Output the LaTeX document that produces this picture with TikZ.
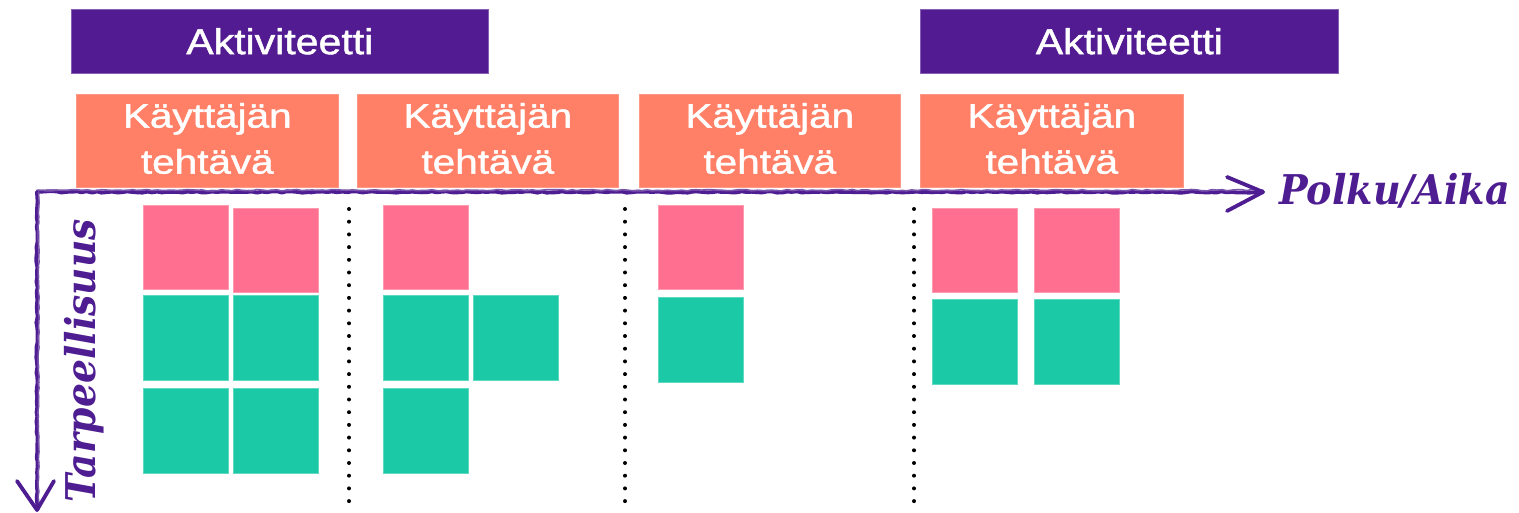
\documentclass[tikz,border=0pt]{standalone}
\usepackage{fontspec}
\setmainfont[FakeBold=1.2]{Liberation Sans}
\newfontfamily\axisfont{DejaVu Serif}
\usetikzlibrary{decorations.pathmorphing}
\definecolor{actpurple}{RGB}{82,27,146}
\definecolor{taskorange}{RGB}{255,128,102}
\definecolor{notepink}{RGB}{255,111,143}
\definecolor{notegreen}{RGB}{28,201,166}
\definecolor{axispurple}{RGB}{78,29,145}
\newcommand{\wx}[1]{\scalebox{1.19}[1]{#1}}
\newcommand{\wa}[1]{\scalebox{1.14}[1]{#1}}
\newcommand{\taskline}{\wx{Käyttäjän}\\\wx{tehtävä}\rule[-5pt]{0pt}{5pt}}
\begin{document}
\begin{tikzpicture}[x=1pt,y=-1pt,
  actbox/.style={fill=actpurple, draw=actpurple!70!white, line width=0.6pt, anchor=north west, inner sep=0pt,
     minimum width=#1, minimum height=64pt, text=white, font=\fontsize{36}{40}\selectfont},
  taskbox/.style={fill=taskorange, draw=taskorange!80!white, line width=0.6pt, anchor=north west, inner sep=0pt,
     minimum width=#1, minimum height=93pt, text=white, align=center, font=\fontsize{34}{46}\selectfont},
  pinknote/.style={fill=notepink, draw=notepink!70!white, line width=0.8pt, anchor=north west, inner sep=0pt,
     minimum width=85pt, minimum height=84pt},
  greennote/.style={fill=notegreen, draw=notegreen!70!white, line width=0.8pt, anchor=north west, inner sep=0pt,
     minimum width=85pt, minimum height=85pt},
  dotline/.style={line width=4pt, line cap=round, dash pattern=on 0pt off 12.7pt, black},
  axisline/.style={axispurple, line width=3.8pt, line cap=round, line join=round,
     decorate, decoration={random steps, segment length=5pt, amplitude=0.7pt}},
  axishead/.style={axispurple, line width=3.8pt, line cap=round, line join=round},
  axislabel/.style={text=axispurple, inner sep=0pt, font=\axisfont\bfseries\itshape\fontsize{41}{45}\selectfont}
]
\useasboundingbox (0,0) rectangle (1519,513);

% activities
\node[actbox=417pt] (act1) at (71,9) {\wa{Aktiviteetti}};
\node[actbox=418pt] (act2) at (920,9) {\wa{Aktiviteetti}};

% user tasks
\node[taskbox=262pt] (task1) at (76,94) {\taskline};
\node[taskbox=261pt] (task2) at (357,94) {\taskline};
\node[taskbox=261pt] (task3) at (639,94) {\taskline};
\node[taskbox=263pt] (task4) at (920,94) {\taskline};

% axes
\coordinate (origin) at (37,192);
\coordinate (hend) at (1263,192);
\coordinate (vend) at (37,510);
\coordinate (hh1) at (1227,177);
\coordinate (hh2) at (1227,211);
\coordinate (vh1) at (17,481);
\coordinate (vh2) at (54,481);
\draw[axisline] (origin) -- (hend);
\draw[axisline, line width=1.6pt, axispurple!75!white] ([yshift=1.8pt]origin) -- ([yshift=1.8pt]hend);
\draw[axishead] (hh1) -- (hend) -- (hh2);
\draw[axisline] (origin) -- (vend);
\draw[axisline, line width=1.4pt, axispurple!75!white] ([xshift=1.6pt]origin) -- ([xshift=1.6pt]vend);
\draw[axishead] (vh1) -- (vend) -- (vh2);

\node[axislabel, anchor=base west] (polku) at (1279,205) {\scalebox{0.93}[1]{Polku/Aika}};
\node[axislabel, anchor=base west, rotate=90] (tarp) at (95,503) {\scalebox{0.92}[1]{Tarpeellisuus}};

% dotted separators
\coordinate (d1a) at (349,209); \coordinate (d1b) at (349,503);
\coordinate (d2a) at (625,209); \coordinate (d2b) at (625,503);
\coordinate (d3a) at (914,209); \coordinate (d3b) at (914,503);
\draw[dotline] (d1a) -- (d1b);
\draw[dotline] (d2a) -- (d2b);
\draw[dotline] (d3a) -- (d3b);

% column 1 notes
\node[pinknote] (p11) at (143,205) {};
\node[pinknote] (p12) at (233,208) {};
\node[greennote] (g11) at (143,295) {};
\node[greennote] (g12) at (233,295) {};
\node[greennote] (g13) at (143,388) {};
\node[greennote] (g14) at (233,388) {};

% column 2 notes
\node[pinknote] (p21) at (383,205) {};
\node[greennote] (g21) at (383,295) {};
\node[greennote] (g22) at (473,295) {};
\node[greennote] (g23) at (383,388) {};

% column 3 notes
\node[pinknote] (p31) at (658,205) {};
\node[greennote] (g31) at (658,297) {};

% column 4 notes
\node[pinknote] (p41) at (932,208) {};
\node[pinknote] (p42) at (1034,208) {};
\node[greennote] (g41) at (932,299) {};
\node[greennote] (g42) at (1034,299) {};
\end{tikzpicture}
\end{document}
